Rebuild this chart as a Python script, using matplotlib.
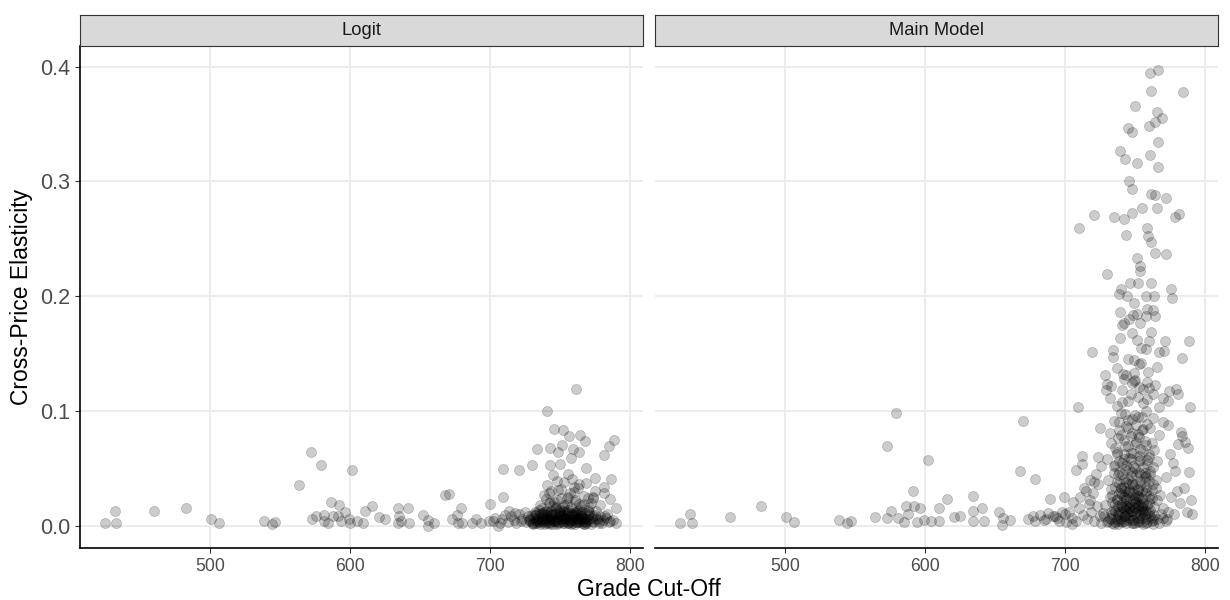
import matplotlib
matplotlib.use("Agg")
import matplotlib.pyplot as plt

plt.rcParams['font.family'] = ['Liberation Sans', 'DejaVu Sans']

panels = ["Logit", "Main Model"]

# ---- Logit panel ----
logit_x = [
    # scattered points
    424.6, 431.7, 432.9, 459.9, 482.5, 500.6, 506.5, 538.9, 544.2, 546.6,
    572.4, 579.5, 563.5, 601.5, 573.0, 575.7, 581.3, 581.3, 584.6, 586.6,
    587.8, 592.0, 591.7, 593.5, 596.7, 599.1, 600.3, 604.7, 609.5, 610.4,
    616.0, 620.5, 625.2, 634.4, 641.8, 635.0, 636.5, 634.4, 642.1, 652.2,
    655.5, 655.5, 660.2, 667.9, 670.9, 673.3, 676.6, 679.2, 677.2, 679.8,
    686.9, 689.9, 693.8, 700.0, 699.7, 705.6, 709.5, 709.5, 721.1, 730.0,
    733.8, 740.9, 761.7, 746.0, 752.2, 756.4, 764.4, 767.7, 789.0, 785.2,
    781.3, 751.9, 759.3, 743.3, 763.8, 748.4, 743.0, 749.9, 757.9, 768.8,
    775.4, 786.3, 781.9, 786.0, 789.9, 781.3, 773.9,
    # dense cluster
    726, 729, 731, 733, 735, 737, 739, 741, 743, 745, 747, 749, 751, 753,
    755, 757, 759, 761, 763, 765, 767, 769, 771, 774, 777, 780,
    727, 730, 732, 734, 736, 738, 740, 742, 744, 746, 748, 750, 752, 754,
    756, 758, 760, 762, 764, 766, 768, 770, 772, 775, 778, 783,
    728, 732, 735, 738, 741, 744, 747, 750, 753, 756, 759, 762, 765, 768,
    771, 776, 779, 785, 788,
    731, 734, 737, 740, 743, 746, 749, 752, 755, 758, 761, 764, 767, 770,
    773, 781, 790,
    736, 739, 741, 743, 745, 747, 749, 751, 753, 755, 757, 759, 761, 763,
    765, 767, 769, 772, 775, 740, 744, 748, 752, 756, 760, 764, 770,
    702, 704, 707, 709, 711, 713, 715, 717, 719, 721, 723, 725, 714, 718, 722,
    729, 730, 733, 734, 736, 738, 739, 742, 743, 745, 746, 748, 750, 751, 753,
    754, 756, 757, 759, 760, 762, 763, 765, 766, 768, 770, 773, 776, 782, 786,
    731, 733, 735, 737, 740, 741, 744, 745, 747, 749, 751, 752, 754, 756, 758,
    760, 761, 763, 765, 767, 769, 771, 774, 778, 784,
    737, 740, 742, 745, 748, 750, 753, 756, 758, 761, 764, 767, 771, 774, 779,
    732, 735, 738, 741, 744, 747, 750, 753, 756, 759, 762, 765, 768,
    742, 746, 751, 755, 760, 764,
    739, 743, 748, 752, 757, 761, 766,
]
logit_y = [
    0.0023, 0.0124, 0.0023, 0.0124, 0.0157, 0.0057, 0.0023, 0.0040, 0.0017, 0.0030,
    0.0643, 0.0530, 0.0352, 0.0483, 0.0060, 0.0084, 0.0090, 0.0044, 0.0023, 0.0210,
    0.0084, 0.0178, 0.0084, 0.0037, 0.0117, 0.0057, 0.0023, 0.0037, 0.0023, 0.0124,
    0.0168, 0.0077, 0.0057, 0.0151, 0.0157, 0.0084, 0.0044, 0.0023, 0.0023, 0.0090,
    0.0050, 0.0000, 0.0027, 0.0268, 0.0275, 0.0057, 0.0090, 0.0157, 0.0027, 0.0027,
    0.0027, 0.0060, 0.0027, 0.0190, 0.0044, 0.0000, 0.0496, 0.0251, 0.0483, 0.0530,
    0.0667, 0.0998, 0.1190, 0.0840, 0.0834, 0.0777, 0.0794, 0.0734, 0.0750, 0.0693,
    0.0613, 0.0703, 0.0670, 0.0680, 0.0640, 0.0640, 0.0526, 0.0533, 0.0586, 0.0503,
    0.0419, 0.0402, 0.0335, 0.0235, 0.0151, 0.0285, 0.0251,
    0.003, 0.006, 0.002, 0.009, 0.004, 0.011, 0.001, 0.007, 0.003, 0.010, 0.005, 0.002, 0.008, 0.004,
    0.012, 0.003, 0.006, 0.001, 0.009, 0.004, 0.007, 0.002, 0.005, 0.003, 0.006, 0.002,
    0.008, 0.002, 0.012, 0.005, 0.001, 0.007, 0.010, 0.002, 0.013, 0.006, 0.001, 0.011, 0.004, 0.009,
    0.002, 0.010, 0.005, 0.013, 0.003, 0.008, 0.011, 0.006, 0.001, 0.009, 0.004, 0.007,
    0.005, 0.009, 0.014, 0.003, 0.012, 0.006, 0.015, 0.008, 0.002, 0.014, 0.009, 0.003, 0.012, 0.001,
    0.010, 0.013, 0.008, 0.003, 0.005,
    0.001, 0.004, 0.008, 0.005, 0.001, 0.004, 0.007, 0.013, 0.006, 0.001, 0.011, 0.006, 0.004, 0.014,
    0.007, 0.005, 0.002,
    0.018, 0.027, 0.035, 0.021, 0.044, 0.016, 0.031, 0.024, 0.038, 0.019, 0.028, 0.041, 0.022, 0.033,
    0.017, 0.026, 0.037, 0.020, 0.030, 0.023, 0.030, 0.039, 0.016, 0.045, 0.034, 0.019, 0.024,
    0.004, 0.007, 0.002, 0.006, 0.009, 0.003, 0.008, 0.005, 0.002, 0.010, 0.006, 0.012, 0.013, 0.011, 0.004,
    0.004, 0.009, 0.006, 0.002, 0.010, 0.004, 0.012, 0.005, 0.008, 0.001, 0.011, 0.006, 0.003, 0.009, 0.006,
    0.012, 0.004, 0.008, 0.002, 0.010, 0.007, 0.003, 0.010, 0.002, 0.006, 0.009, 0.004, 0.006, 0.008, 0.004,
    0.007, 0.011, 0.003, 0.005, 0.002, 0.009, 0.007, 0.004, 0.010, 0.013, 0.006, 0.002, 0.007, 0.010, 0.005,
    0.008, 0.003, 0.011, 0.007, 0.001, 0.004, 0.012, 0.008, 0.002, 0.010,
    0.015, 0.013, 0.020, 0.017, 0.022, 0.014, 0.018, 0.025, 0.016, 0.021, 0.014, 0.019, 0.016, 0.024, 0.018,
    0.002, 0.007, 0.010, 0.003, 0.009, 0.004, 0.012, 0.007, 0.002, 0.011, 0.005, 0.008, 0.003,
    0.028, 0.021, 0.032, 0.024, 0.029, 0.036,
    0.006, 0.011, 0.003, 0.009, 0.005, 0.012, 0.006,
]

# ---- Main Model panel ----
main_x = [
    # low grades
    425.0, 431.7, 433.3, 460.5, 482.5, 500.8, 506.7, 538.7, 544.4, 546.8,
    564.0, 572.6, 579.6, 572.6, 575.5, 580.9, 584.9, 587.9, 586.8, 591.7,
    592.2, 596.5, 594.1, 599.5, 601.9, 604.6, 609.7, 609.9, 616.1, 620.7,
    625.3, 634.1, 634.7, 634.1, 641.1, 641.9, 652.7, 655.6, 655.4, 660.8,
    668.0, 670.4, 673.7, 676.9, 679.0, 679.0, 686.8, 689.5, 691.7, 694.1,
    699.7, 700.3, 705.1, 707.8, 709.4, 709.9, 712.6, 720.9, 719.6, 725.0,
    # upper tail
    729.8, 739.5, 742.7, 735.2, 742.2, 743.8, 745.2, 748.1, 750.0, 751.9,
    745.7, 748.1, 755.4, 748.1, 758.9, 760.8, 766.4, 761.6, 784.7, 765.6,
    769.6, 759.9, 764.5, 766.4, 761.0, 766.7, 761.3, 764.2, 765.9, 772.3,
    778.8, 781.7, 759.7, 761.8, 764.8, 772.0, 751.6, 753.5, 753.5, 746.5,
    752.2, 761.6, 775.8, 776.6, 738.4, 740.1, 744.4, 758.1, 763.4, 749.7,
    739.2, 748.4, 758.9, 763.2, 745.7, 751.6, 758.1, 764.2, 740.6, 742.2,
    754.0, 761.8, 748.1, 739.5, 751.3, 760.5, 771.3, 788.7, 754.3, 758.1,
    767.2, 771.2, 734.7, 734.1, 744.9, 749.7, 754.6, 784.0, 766.1, 737.6,
    741.7, 749.7, 759.7, 742.2, 749.7, 728.5, 730.1, 733.3, 758.9, 764.5,
    729.3, 752.7, 774.2, 779.3, 780.6, 770.2, 773.8, 732.3, 789.8,
    737, 741, 745, 748, 752, 756, 760, 763, 767,
    # dense core
    726, 728, 731, 733, 735, 737, 739, 741, 743, 745, 747, 749, 751, 753, 755, 757, 759, 761, 763, 766, 769, 772,
    727, 730, 732, 734, 736, 738, 740, 742, 744, 746, 748, 750, 752, 754, 756, 758, 760, 762, 764, 767, 770, 774,
    729, 732, 734, 736, 738, 740, 742, 744, 746, 748, 750, 752, 754, 756, 758, 760, 762, 765, 768,
    731, 733, 735, 737, 739, 741, 743, 745, 747, 749, 751, 753, 755, 757, 759, 761, 763, 766,
    734, 736, 738, 740, 742, 744, 746, 748, 750, 752, 754, 756, 758, 760, 762,
    738, 741, 744, 745, 747, 749, 750, 752, 753, 755,
    730, 733, 735, 737, 739, 741, 743, 745, 747, 749, 751, 753, 755, 757, 759, 761, 764, 767, 770,
    732, 736, 738, 740, 742, 744, 746, 748, 750, 752, 754, 756, 758, 760, 763, 766,
    733, 735, 737, 738, 740, 741, 743, 744, 746, 747, 749, 750, 752, 753, 755, 756, 758, 759, 761, 762, 764,
    734, 736, 739, 740, 742, 743, 745, 746, 748, 749, 751, 752, 754, 755, 757, 758, 760, 761, 763,
    735, 737, 739, 741, 742, 744, 745, 747, 748, 750, 751, 753, 754, 756, 757, 759, 761, 763, 765,
    736, 739, 742, 745, 747, 750, 753, 756, 759, 762,
    738, 740, 742, 744, 746, 748, 750, 752, 754, 756,
    737, 739, 740, 742, 743, 745, 746, 748, 749, 751, 752, 754, 755, 757, 758, 760,
    741, 744, 747, 750, 753, 756, 759,
    740, 743, 746, 749, 752, 755, 758,
    # flanks
    701, 703, 705, 706, 708, 710, 711, 713, 714, 716, 717, 718, 719, 720, 721, 722, 723, 724, 725, 726,
    712, 715, 718, 721, 724,
    770, 772, 773, 775, 776, 778, 779, 781, 782, 784, 785, 787, 788, 789, 790, 791,
    774, 777, 780, 783, 786,
    682, 685, 688, 693, 696, 698,
]
main_y = [
    0.0027, 0.0097, 0.0020, 0.0077, 0.0168, 0.0077, 0.0034, 0.0050, 0.0023, 0.0037,
    0.0074, 0.0697, 0.0978, 0.0067, 0.0124, 0.0067, 0.0030, 0.0100, 0.0174, 0.0298,
    0.0174, 0.0151, 0.0034, 0.0050, 0.0576, 0.0044, 0.0044, 0.0151, 0.0228, 0.0074,
    0.0080, 0.0255, 0.0124, 0.0037, 0.0151, 0.0037, 0.0117, 0.0067, 0.0007, 0.0050,
    0.0476, 0.0908, 0.0060, 0.0084, 0.0402, 0.0040, 0.0060, 0.0228, 0.0084, 0.0067,
    0.0251, 0.0100, 0.0017, 0.0486, 0.1035, 0.2596, 0.0603, 0.2710, 0.1514, 0.0854,
    0.2197, 0.3266, 0.3193, 0.2690, 0.2670, 0.2529, 0.3467, 0.3434, 0.3655, 0.3159,
    0.3005, 0.2931, 0.2764, 0.2724, 0.2596, 0.3943, 0.3970, 0.3786, 0.3782, 0.3601,
    0.3554, 0.3480, 0.3517, 0.3340, 0.3233, 0.3122, 0.2890, 0.2884, 0.2764, 0.2851,
    0.2690, 0.2714, 0.2523, 0.2476, 0.2372, 0.2368, 0.2335, 0.2261, 0.2221, 0.2117,
    0.2117, 0.2117, 0.2060, 0.1987, 0.2017, 0.2060, 0.2000, 0.2000, 0.2000, 0.1940,
    0.1859, 0.1839, 0.1886, 0.1883, 0.1799, 0.1842, 0.1826, 0.1826, 0.1752, 0.1765,
    0.1765, 0.1685, 0.1678, 0.1631, 0.1618, 0.1611, 0.1611, 0.1611, 0.1551, 0.1538,
    0.1511, 0.1524, 0.1531, 0.1467, 0.1451, 0.1441, 0.1417, 0.1464, 0.1384, 0.1370,
    0.1323, 0.1330, 0.1340, 0.1280, 0.1263, 0.1317, 0.1236, 0.1216, 0.1250, 0.1223,
    0.1180, 0.1206, 0.1173, 0.1190, 0.1150, 0.1116, 0.1089, 0.1116, 0.1035,
    0.104, 0.118, 0.109, 0.124, 0.112, 0.107, 0.120, 0.115, 0.103,
    0.002, 0.008, 0.004, 0.012, 0.001, 0.006, 0.010, 0.003, 0.014, 0.005, 0.009, 0.002, 0.011, 0.004, 0.007, 0.013, 0.003, 0.008, 0.001, 0.006, 0.010, 0.004,
    0.011, 0.003, 0.007, 0.002, 0.013, 0.009, 0.004, 0.008, 0.002, 0.012, 0.005, 0.015, 0.003, 0.010, 0.001, 0.006, 0.012, 0.004, 0.009, 0.002, 0.007, 0.012,
    0.018, 0.025, 0.021, 0.034, 0.017, 0.028, 0.041, 0.022, 0.031, 0.019, 0.036, 0.026, 0.045, 0.020, 0.030, 0.039, 0.024, 0.033, 0.027,
    0.040, 0.032, 0.046, 0.023, 0.037, 0.016, 0.049, 0.029, 0.043, 0.035, 0.021, 0.047, 0.030, 0.042, 0.018, 0.048, 0.036, 0.022,
    0.027, 0.019, 0.044, 0.033, 0.025, 0.038, 0.016, 0.047, 0.024, 0.032, 0.039, 0.015, 0.043, 0.026, 0.031,
    0.012, 0.020, 0.017, 0.026, 0.013, 0.028, 0.011, 0.018, 0.023, 0.014,
    0.058, 0.072, 0.091, 0.064, 0.083, 0.055, 0.097, 0.069, 0.078, 0.052, 0.088, 0.061, 0.095, 0.074, 0.057, 0.085, 0.066, 0.079, 0.090,
    0.081, 0.053, 0.076, 0.098, 0.062, 0.087, 0.059, 0.093, 0.071, 0.080, 0.067, 0.084, 0.100, 0.062, 0.094, 0.056,
    0.006, 0.014, 0.022, 0.004, 0.018, 0.027, 0.009, 0.024, 0.015, 0.029, 0.005, 0.020, 0.026, 0.013, 0.003, 0.019, 0.028, 0.011, 0.023, 0.007, 0.016,
    0.010, 0.003, 0.028, 0.006, 0.015, 0.030, 0.011, 0.021, 0.002, 0.016, 0.027, 0.007, 0.018, 0.024, 0.010, 0.002, 0.020, 0.014, 0.005,
    0.052, 0.038, 0.056, 0.045, 0.034, 0.053, 0.041, 0.058, 0.037, 0.050, 0.044, 0.056, 0.035, 0.051, 0.039, 0.054, 0.045, 0.051, 0.040,
    0.068, 0.090, 0.075, 0.085, 0.063, 0.096, 0.077, 0.065, 0.089, 0.072,
    0.001, 0.012, 0.004, 0.017, 0.007, 0.013, 0.002, 0.016, 0.009, 0.012,
    0.062, 0.047, 0.079, 0.058, 0.069, 0.092, 0.049, 0.081, 0.063, 0.073, 0.095, 0.057, 0.083, 0.046, 0.070, 0.060,
    0.108, 0.131, 0.115, 0.127, 0.141, 0.119, 0.110,
    0.033, 0.008, 0.036, 0.022, 0.031, 0.017, 0.034,
    0.003, 0.012, 0.007, 0.021, 0.004, 0.015, 0.025, 0.009, 0.033, 0.006, 0.019, 0.040, 0.012, 0.028, 0.004, 0.045, 0.017, 0.036, 0.008, 0.052,
    0.054, 0.030, 0.022, 0.038, 0.060,
    0.015, 0.042, 0.006, 0.062, 0.025, 0.010, 0.048, 0.071, 0.020, 0.078, 0.033, 0.012, 0.068, 0.047, 0.022, 0.010,
    0.088, 0.055, 0.030, 0.082, 0.073,
    0.009, 0.005, 0.011, 0.008, 0.004, 0.012,
]

x_ticks = [500, 600, 700, 800]
y_ticks = [0.0, 0.1, 0.2, 0.3, 0.4]
y_tick_labels = ["0.0", "0.1", "0.2", "0.3", "0.4"]

fig = plt.figure(figsize=(12.3, 6), dpi=100)
W, H = 1230, 600
lefts = [80, 655]
width = 563
bottom_px, top_px = 548, 46
strip_top = 15

data = [(logit_x, logit_y), (main_x, main_y)]
for i, name in enumerate(panels):
    ax = fig.add_axes([lefts[i] / W, 1 - bottom_px / H, width / W, (bottom_px - top_px) / H])
    xs, ys = data[i]
    ax.scatter(xs, ys, s=52, facecolor="black", edgecolor="black", linewidths=0.6, alpha=0.2, zorder=3)
    ax.set_xlim(407, 809.5)
    ax.set_ylim(-0.0195, 0.418)
    ax.set_xticks(x_ticks)
    ax.set_yticks(y_ticks)
    ax.grid(True, color="#EBEBEB", linewidth=1.3, zorder=0)
    ax.set_axisbelow(True)
    for s in ["top", "right"]:
        ax.spines[s].set_visible(False)
    ax.spines["bottom"].set_linewidth(1.2)
    ax.spines["left"].set_linewidth(1.2)
    ax.tick_params(axis="x", colors="#333333", labelcolor="#4D4D4D", labelsize=12.7, length=3.5, width=0.8)
    if i == 0:
        ax.set_yticklabels(y_tick_labels)
        ax.tick_params(axis="y", colors="#333333", labelcolor="#4D4D4D", labelsize=15.5, length=3.5, width=0.8)
        ax.set_ylabel("Cross-Price Elasticity", fontsize=16.5, color="black", labelpad=5)
    else:
        ax.spines["left"].set_visible(False)
        ax.tick_params(axis="y", left=False, labelleft=False)

    sax = fig.add_axes([lefts[i] / W, 1 - top_px / H, width / W, (top_px - strip_top) / H])
    sax.set_facecolor("#D9D9D9")
    sax.set_xticks([])
    sax.set_yticks([])
    for s in sax.spines.values():
        s.set_color("#333333")
        s.set_linewidth(0.8)
    sax.text(0.5, 0.5, name, ha="center", va="center", fontsize=13.2, color="#1A1A1A",
             transform=sax.transAxes)

fig.text((lefts[0] + lefts[1] + width) / 2 / W, 1 - 590 / H, "Grade Cut-Off",
         ha="center", va="center", fontsize=16.5, color="black")

fig.savefig("out.png", dpi=100)
